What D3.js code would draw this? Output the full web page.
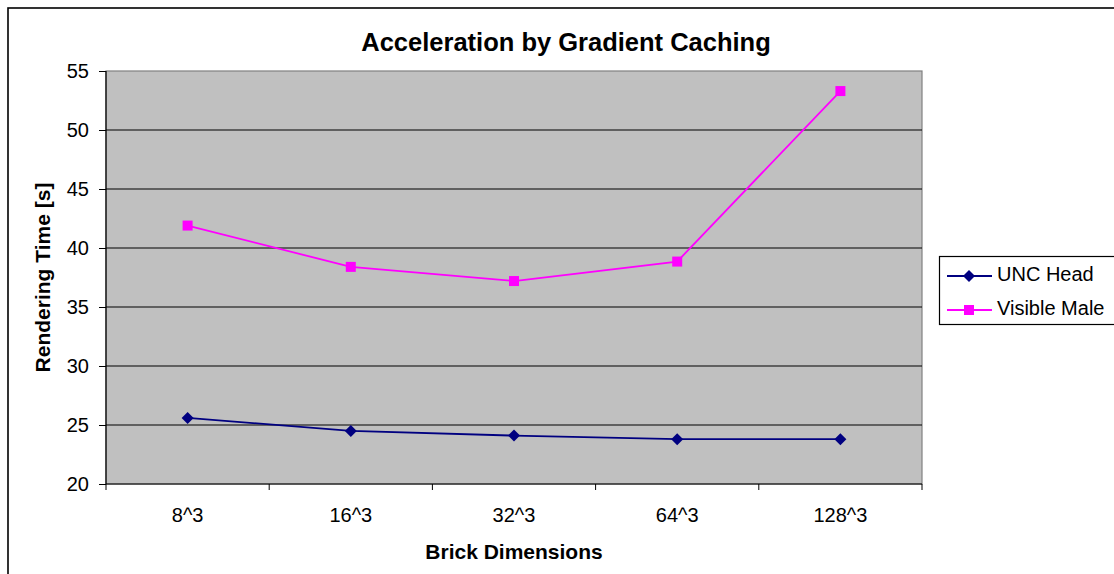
<!DOCTYPE html>
<html>
<head>
<meta charset="utf-8">
<script src="https://cdn.jsdelivr.net/npm/d3@7"></script>
<style>
  html, body { margin: 0; padding: 0; background: #fff; }
  svg { display: block; font-family: "Liberation Sans", Arial, sans-serif; }
</style>
</head>
<body>
<svg id="chart" width="1114" height="574"></svg>
<script>
// Brick sizes tested and the measured rendering times (seconds)
const categories = ["8^3", "16^3", "32^3", "64^3", "128^3"];
const uncHead = [25.6, 24.5, 24.1, 23.8, 23.8];
const visibleMale = [41.9, 38.4, 37.2, 38.85, 53.3];
const yTicks = [20, 25, 30, 35, 40, 45, 50, 55];

const seriesNames = ["UNC Head", "Visible Male"];
const seriesColors = ["#000080", "#FF00FF"];
const series = [
  { name: seriesNames[0], values: uncHead, color: seriesColors[0], marker: "diamond" },
  { name: seriesNames[1], values: visibleMale, color: seriesColors[1], marker: "square" }
];

const FONT = "'Liberation Sans', Arial, sans-serif";
const svg = d3.select("#chart");
const plot = { left: 106, top: 71, right: 922, bottom: 484 };

// Outer chart frame (only top and left edges fall inside the page)
svg.append("rect")
  .attr("x", 8).attr("y", 8).attr("width", 1200).attr("height", 700)
  .attr("fill", "none").attr("stroke", "#000").attr("stroke-width", 1.6);

const x = d3.scaleBand().domain(categories).range([plot.left, plot.right]).padding(0);
const y = d3.scaleLinear().domain([20, 55]).range([plot.bottom, plot.top]);

// Plot background
svg.append("rect")
  .attr("x", plot.left).attr("y", plot.top)
  .attr("width", plot.right - plot.left).attr("height", plot.bottom - plot.top)
  .attr("fill", "#C0C0C0").attr("stroke", "#808080").attr("stroke-width", 1.2);

// Horizontal gridlines
svg.append("g").selectAll("line")
  .data(yTicks.filter(v => v > 20 && v < 55))
  .join("line")
  .attr("x1", plot.left).attr("x2", plot.right)
  .attr("y1", d => y(d)).attr("y2", d => y(d))
  .attr("stroke", "#000").attr("stroke-width", 1);

// Y axis
const yAxis = svg.append("g")
  .attr("transform", `translate(${plot.left},0)`)
  .call(d3.axisLeft(y).tickValues(yTicks).tickSize(7).tickPadding(10).tickFormat(d3.format("d")));
yAxis.selectAll("text").attr("font-size", 20).attr("fill", "#000").attr("font-family", FONT);
yAxis.selectAll("line, path").attr("stroke", "#000");
yAxis.select(".domain").attr("d", `M0,${plot.top}V${plot.bottom}`).attr("stroke-width", 1.2);

// X axis with ticks on category boundaries
const xAxisG = svg.append("g").attr("transform", `translate(0,${plot.bottom})`);
xAxisG.append("line")
  .attr("x1", plot.left).attr("x2", plot.right).attr("y1", 0).attr("y2", 0)
  .attr("stroke", "#000").attr("stroke-width", 1.2);
const boundaries = categories.map(c => x(c)).concat([x(categories[categories.length - 1]) + x.bandwidth()]);
xAxisG.selectAll("line.tick").data(boundaries).join("line")
  .attr("class", "tick")
  .attr("x1", d => d).attr("x2", d => d).attr("y1", 0).attr("y2", 6)
  .attr("stroke", "#000");
xAxisG.selectAll("text").data(categories).join("text")
  .attr("x", d => x(d) + x.bandwidth() / 2)
  .attr("y", 38)
  .attr("text-anchor", "middle")
  .attr("font-size", 20).attr("fill", "#000")
  .text(d => d);

// Titles
svg.append("text")
  .attr("x", 566).attr("y", 51).attr("text-anchor", "middle")
  .attr("font-size", 25.5).attr("font-weight", "bold").text("Acceleration by Gradient Caching");
svg.append("text")
  .attr("x", (plot.left + plot.right) / 2).attr("y", 559).attr("text-anchor", "middle")
  .attr("font-size", 21).attr("font-weight", "bold").text("Brick Dimensions");
svg.append("text")
  .attr("transform", `translate(50,${(plot.top + plot.bottom) / 2}) rotate(-90)`)
  .attr("text-anchor", "middle")
  .attr("font-size", 21).attr("font-weight", "bold").text("Rendering Time [s]");

// Marker shapes
function drawMarker(g, kind, color, cx, cy) {
  if (kind === "diamond") {
    g.append("path")
      .attr("d", `M${cx},${cy - 6}L${cx + 6},${cy}L${cx},${cy + 6}L${cx - 6},${cy}Z`)
      .attr("fill", color);
  } else {
    g.append("rect")
      .attr("x", cx - 5).attr("y", cy - 5).attr("width", 10).attr("height", 10)
      .attr("fill", color);
  }
}

const line = d3.line()
  .x((d, i) => x(categories[i]) + x.bandwidth() / 2)
  .y(d => y(d));

series.forEach(s => {
  const g = svg.append("g");
  g.append("path").datum(s.values)
    .attr("d", line).attr("fill", "none")
    .attr("stroke", s.color).attr("stroke-width", 1.8);
  s.values.forEach((v, i) => {
    drawMarker(g, s.marker, s.color, x(categories[i]) + x.bandwidth() / 2, y(v));
  });
});

// Legend
const legend = svg.append("g");
legend.append("rect")
  .attr("x", 939.5).attr("y", 256.5).attr("width", 190).attr("height", 68)
  .attr("fill", "#fff").attr("stroke", "#000").attr("stroke-width", 1.2);
series.forEach((s, i) => {
  const ly = 276 + i * 34;
  legend.append("line")
    .attr("x1", 947).attr("x2", 992).attr("y1", ly).attr("y2", ly)
    .attr("stroke", s.color).attr("stroke-width", 1.8);
  drawMarker(legend, s.marker, s.color, 969, ly);
  legend.append("text")
    .attr("x", 997).attr("y", ly + 4.5)
    .attr("font-size", 20).attr("fill", "#000").text(s.name);
});
</script>
</body>
</html>
